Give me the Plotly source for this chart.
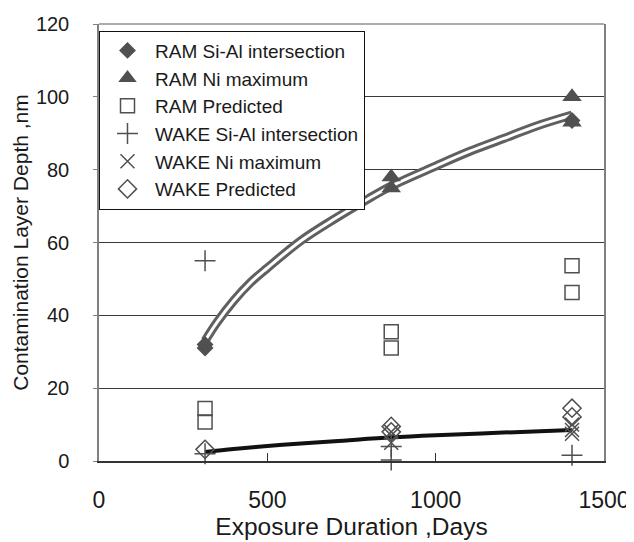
import plotly.graph_objects as go

# ---- data ----
ram_sial_x = [315, 315, 1405]
ram_sial_y = [31, 32, 93.5]

ram_ni_x = [868, 868, 1405, 1405]
ram_ni_y = [78, 75, 100, 93]

ram_pred_x = [315, 315, 868, 868, 1405, 1405]
ram_pred_y = [14.4, 10.7, 35.5, 31, 53.6, 46.3]

wake_sial_x = [315, 315, 868, 868, 1405]
wake_sial_y = [55, 2, 4, 0.3, 1.6]

wake_ni_x = [868, 868, 1405, 1405, 1405]
wake_ni_y = [8, 5, 10, 8.5, 7.5]

wake_pred_x = [315, 868, 868, 1405, 1405]
wake_pred_y = [3.2, 9.5, 8, 14.5, 12.1]

ram_trend_x = [315, 350, 400, 450, 500, 600, 700, 800, 868, 1000, 1100, 1200, 1300, 1405]
ram_trend_y = [33, 38, 44, 49, 53, 60.5, 66.5, 72, 75.5, 81, 85, 88.5, 92, 95]

wake_trend_x = [315, 400, 500, 600, 700, 868, 1000, 1200, 1405]
wake_trend_y = [2.5, 3.3, 4.1, 4.8, 5.4, 6.5, 7.1, 7.8, 8.5]

x_ticks = [0, 500, 1000, 1500]
y_ticks = [0, 20, 40, 60, 80, 100, 120]

FONT = "Liberation Sans, Arial, sans-serif"
MK = "#505050"

fig = go.Figure()

# trend lines (hollow gray double line and black line)
fig.add_trace(go.Scatter(x=ram_trend_x, y=ram_trend_y, mode="lines",
                         line=dict(color="#606060", width=9, shape="spline"),
                         showlegend=False, hoverinfo="skip"))
fig.add_trace(go.Scatter(x=ram_trend_x, y=ram_trend_y, mode="lines",
                         line=dict(color="white", width=3, shape="spline"),
                         showlegend=False, hoverinfo="skip"))
fig.add_trace(go.Scatter(x=wake_trend_x, y=wake_trend_y, mode="lines",
                         line=dict(color="#111111", width=4, shape="spline"),
                         showlegend=False, hoverinfo="skip"))

fig.add_trace(go.Scatter(x=ram_sial_x, y=ram_sial_y, mode="markers",
                         name="RAM Si-Al intersection",
                         marker=dict(symbol="diamond", size=13, color=MK)))
fig.add_trace(go.Scatter(x=ram_ni_x, y=ram_ni_y, mode="markers",
                         name="RAM Ni maximum",
                         marker=dict(symbol="triangle-up", size=17, color=MK)))
fig.add_trace(go.Scatter(x=ram_pred_x, y=ram_pred_y, mode="markers",
                         name="RAM Predicted",
                         marker=dict(symbol="square-open", size=14, color=MK,
                                     line=dict(width=1.5, color=MK))))
fig.add_trace(go.Scatter(x=wake_sial_x, y=wake_sial_y, mode="markers",
                         name="WAKE Si-Al intersection", cliponaxis=False,
                         marker=dict(symbol="cross-thin", size=15, color=MK,
                                     line=dict(width=1.5, color=MK))))
fig.add_trace(go.Scatter(x=wake_ni_x, y=wake_ni_y, mode="markers",
                         name="WAKE Ni maximum",
                         marker=dict(symbol="x-thin", size=14, color=MK,
                                     line=dict(width=1.5, color=MK))))
fig.add_trace(go.Scatter(x=wake_pred_x, y=wake_pred_y, mode="markers",
                         name="WAKE Predicted",
                         marker=dict(symbol="diamond-open", size=14, color=MK,
                                     line=dict(width=1.5, color=MK))))

# the page body adds an 8 px offset, so margins are compensated for it
fig.update_layout(
    width=634, height=542,
    margin=dict(l=91, r=38, t=16, b=89, autoexpand=False),
    paper_bgcolor="white", plot_bgcolor="white",
    font=dict(family=FONT, color="#1a1a1a", size=20),
    showlegend=True,
    legend=dict(x=0, y=0.985, xanchor="left", yanchor="top",
                bgcolor="white", bordercolor="#111111", borderwidth=1,
                font=dict(family=FONT, size=19, color="#1a1a1a"),
                itemwidth=45,
                tracegroupgap=0, itemsizing="trace"),
)

fig.update_xaxes(range=[0, 1500], tickvals=x_ticks,
                 ticktext=[str(v) for v in x_ticks],
                 tickfont=dict(size=23), automargin=False,
                 showgrid=False, zeroline=False,
                 showline=True, linecolor="#333333", linewidth=1.5,
                 ticks="inside", ticklen=8, tickcolor="#333333",
                 ticklabelstandoff=18,
                 title=dict(text="Exposure Duration ,Days",
                            font=dict(family=FONT, size=24.5), standoff=6))
fig.update_yaxes(range=[0, 120], tickvals=y_ticks,
                 ticktext=[str(v) for v in y_ticks],
                 tickfont=dict(size=20), automargin=False,
                 showgrid=True, gridcolor="#3a3a3a", gridwidth=1,
                 zeroline=False,
                 showline=True, linecolor="#808080", linewidth=1.5, mirror=True,
                 ticks="outside", ticklen=4, tickcolor="#808080",
                 ticklabelstandoff=20,
                 title=dict(text="Contamination Layer Depth ,nm",
                            font=dict(family=FONT, size=21), standoff=2))

fig.add_shape(type="line", xref="paper", yref="paper", x0=0, x1=1, y0=1, y1=1,
              line=dict(color="#909090", width=1.5))

fig.write_html("out.html")
